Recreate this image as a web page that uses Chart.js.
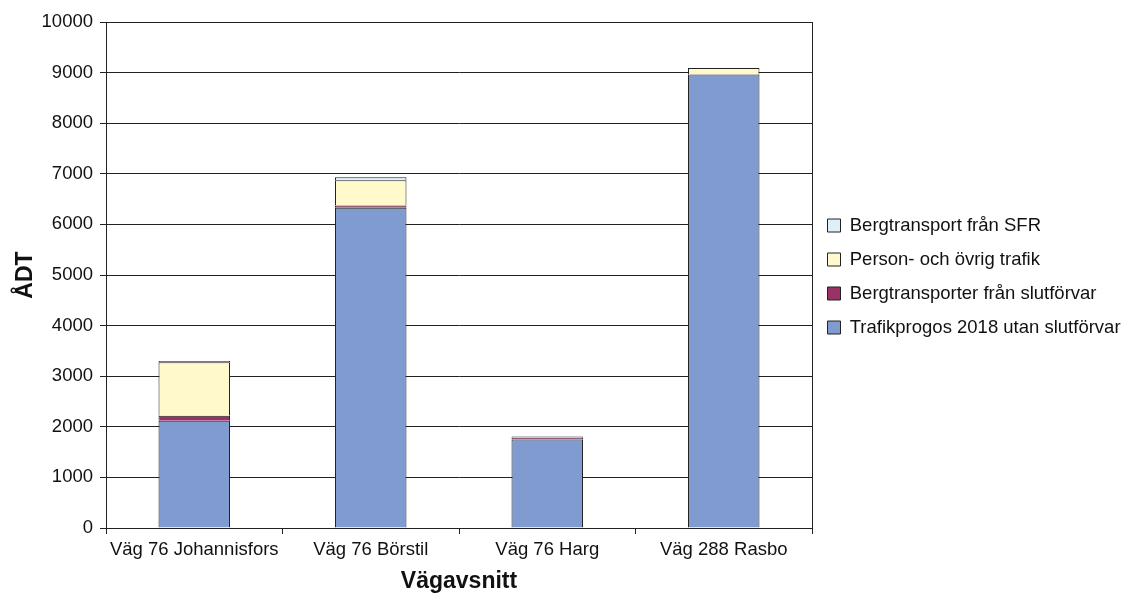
<!DOCTYPE html>
<html>
<head>
<meta charset="utf-8">
<script src="https://cdn.jsdelivr.net/npm/chart.js@4.4.1/dist/chart.umd.min.js"></script>
<style>
    html, body { margin: 0; padding: 0; background: #fff; }
    #wrap { width: 1128px; height: 597px; }
</style>
</head>
<body>
<div id="wrap"><canvas id="adt-chart"></canvas></div>
<script>
    var sections = ['Väg 76 Johannisfors', 'Väg 76 Börstil', 'Väg 76 Harg', 'Väg 288 Rasbo'];

    // stacked from the bottom up
    var prognos2018 = [2120, 6330, 1750, 8960];
    var bergSlutforvar = [100, 45, 40, 0];
    var personOvrig = [1055, 500, 20, 130];
    var bergSFR = [25, 55, 0, 0];

    var yTicks = [0, 1000, 2000, 3000, 4000, 5000, 6000, 7000, 8000, 9000, 10000];

    Chart.defaults.font.family = 'Liberation Sans, Arial, sans-serif';
    Chart.defaults.font.size = 18.5;
    Chart.defaults.color = '#111';

    // frame around the plot area; legend lifted a little
    var frame = {
        id: 'frame',
        afterLayout: function (chart) {
            var lg = chart.legend;
            if (lg) {
                lg.top -= 33;
                lg.bottom -= 33;
            }
        },
        afterDraw: function (chart) {
            var a = chart.chartArea;
            var ctx = chart.ctx;
            ctx.save();
            ctx.strokeStyle = '#222';
            ctx.lineWidth = 1;
            ctx.strokeRect(Math.round(a.left) + 0.5, Math.round(a.top) + 0.5,
                Math.round(a.right - a.left), Math.round(a.bottom - a.top));
            ctx.restore();
        }
    };

    function ds(label, data, color) {
        return {
            label: label,
            data: data,
            backgroundColor: color,
            borderColor: '#222',
            borderWidth: 1,
            barPercentage: 0.405,
            categoryPercentage: 1.0
        };
    }

    new Chart(document.getElementById('adt-chart'), {
        type: 'bar',
        data: {
            labels: sections,
            datasets: [
                ds('Trafikprogos 2018 utan slutförvar', prognos2018, '#7F9BD0'),
                ds('Bergtransporter från slutförvar', bergSlutforvar, '#993366'),
                ds('Person- och övrig trafik', personOvrig, '#FFF9CC'),
                ds('Bergtransport från SFR', bergSFR, '#DDEFF7')
            ]
        },
        options: {
            responsive: true,
            maintainAspectRatio: false,
            animation: false,
            layout: { padding: { left: 0, right: 0, top: 22, bottom: 0 } },
            plugins: {
                tooltip: { enabled: false },
                legend: {
                    position: 'right',
                    reverse: true,
                    maxWidth: 316,
                    labels: {
                        boxWidth: 13,
                        boxHeight: 13,
                        padding: 15.5,
                        color: '#111',
                        font: { size: 18.5 }
                    }
                }
            },
            scales: {
                x: {
                    stacked: true,
                    afterFit: function (axis) { axis.height = 69; },
                    grid: {
                        offset: true,
                        drawOnChartArea: false,
                        drawTicks: true,
                        tickLength: 6,
                        color: '#222'
                    },
                    border: { display: true, color: '#222' },
                    ticks: {
                        color: '#111',
                        font: { size: 18.5 },
                        padding: 5,
                        autoSkip: false,
                        maxRotation: 0
                    },
                    title: {
                        display: true,
                        text: 'Vägavsnitt',
                        color: '#111',
                        font: { size: 23, weight: 'bold' },
                        padding: { top: 0, bottom: 2 }
                    }
                },
                y: {
                    stacked: true,
                    min: 0,
                    max: 10000,
                    afterFit: function (axis) { axis.width = 106; },
                    afterBuildTicks: function (axis) {
                        axis.ticks = yTicks.map(function (v) { return { value: v }; });
                    },
                    grid: { color: '#222', tickLength: 6 },
                    border: { display: true, color: '#222' },
                    ticks: {
                        color: '#111',
                        font: { size: 18.5 },
                        padding: 7,
                        callback: function (v) { return String(v); }
                    },
                    title: {
                        display: true,
                        text: 'ÅDT',
                        color: '#111',
                        font: { size: 23, weight: 'bold' },
                        padding: { top: 12, bottom: 0 }
                    }
                }
            }
        },
        plugins: [frame]
    });
</script>
</body>
</html>
